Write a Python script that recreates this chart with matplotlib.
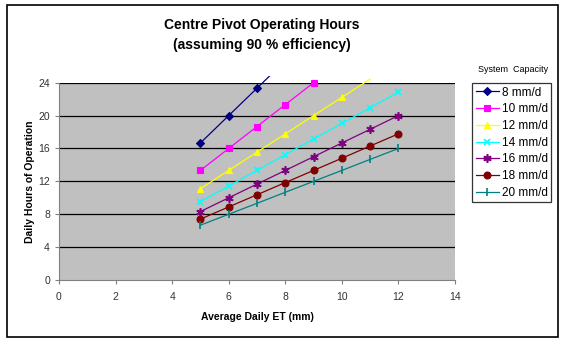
import numpy as np
import matplotlib.pyplot as plt
from matplotlib.patches import Rectangle

plt.rcParams['font.family'] = ['Liberation Sans', 'DejaVu Sans']

# Daily hours of operation, per system capacity
et_values = [5, 6, 7, 8, 9, 10, 11, 12]
labels = ['8 mm/d', '10 mm/d', '12 mm/d', '14 mm/d', '16 mm/d', '18 mm/d', '20 mm/d']
hours_8 = [16.67, 20.0, 23.33, 26.67]
hours_10 = [13.33, 16.0, 18.67, 21.33, 24.0]
hours_12 = [11.11, 13.33, 15.56, 17.78, 20.0, 22.22, 24.44]
hours_14 = [9.52, 11.43, 13.33, 15.24, 17.14, 19.05, 20.95, 22.86]
hours_16 = [8.33, 10.0, 11.67, 13.33, 15.0, 16.67, 18.33, 20.0]
hours_18 = [7.41, 8.89, 10.37, 11.85, 13.33, 14.81, 16.30, 17.78]
hours_20 = [6.67, 8.0, 9.33, 10.67, 12.0, 13.33, 14.67, 16.0]
series = [hours_8, hours_10, hours_12, hours_14, hours_16, hours_18, hours_20]

colors = ['#000080', '#FF00FF', '#FFFF00', '#00FFFF', '#800080', '#800000', '#008080']
markers = ['D', 's', '^', 'x', (6, 2, 0), 'o', '|']
msizes = [4, 5, 5, 5, 6, 5, 6]

fig = plt.figure(figsize=(5.63, 3.42), dpi=100)
fig.patches.append(Rectangle((7 / 563, 1 - 337 / 342), 551 / 563, 332 / 342,
                             transform=fig.transFigure, fill=False,
                             edgecolor='black', linewidth=1.2))

ax = fig.add_axes([59 / 563, 1 - 280 / 342, 396 / 563, 197.3 / 342])
ax.set_facecolor('#C0C0C0')
ax.set_xlim(0, 14)
ax.set_ylim(0, 24)
ax.set_xticks(range(0, 15, 2))
ax.set_yticks(range(0, 25, 4))
for y in range(4, 25, 4):
    ax.axhline(y, color='black', linewidth=0.9, zorder=1)

clip = Rectangle((0, 0), 1, 1.035, transform=ax.transAxes, visible=False)
ax.add_patch(clip)

for vals, lab, c, m, ms in zip(series, labels, colors, markers, msizes):
    x = et_values[:len(vals)]
    show = [v <= 24.01 for v in vals]
    ln, = ax.plot(x, vals, color=c, marker=m, markersize=ms, markevery=show,
                  linewidth=0.9, markeredgewidth=1.2 if m in ('x', '|') or isinstance(m, tuple) else 0.8,
                  label=lab, zorder=3)
    ln.set_clip_path(clip)

for sp in ['top', 'right']:
    ax.spines[sp].set_visible(False)
for sp in ['left', 'bottom']:
    ax.spines[sp].set_color('#808080')
ax.tick_params(axis='both', labelsize=7.5, length=3, color='#808080', labelcolor='#333333')
ax.tick_params(axis='x', pad=6)

ax.set_xlabel('Average Daily ET (mm)', fontsize=7.5, fontweight='bold', labelpad=7)
ax.set_ylabel('Daily Hours of Operation', fontsize=7.5, fontweight='bold', labelpad=2)

fig.text(262 / 563, 1 - 35 / 342, 'Centre Pivot Operating Hours\n(assuming 90 % efficiency)',
         ha='center', va='center', fontsize=10, fontweight='bold', linespacing=1.5)

leg = ax.legend(loc='upper left', bbox_to_anchor=(472 / 563, 1 - 83 / 342),
                bbox_transform=fig.transFigure, fontsize=8.5, frameon=True,
                fancybox=False, edgecolor='black', borderpad=0.3,
                handlelength=2.0, handletextpad=0.2, labelspacing=0.4, borderaxespad=0)
leg.get_frame().set_linewidth(0.9)
fig.text(513 / 563, 1 - 70 / 342, 'System  Capacity', ha='center', va='center', fontsize=6.5)

fig.savefig('out.png', dpi=100)
